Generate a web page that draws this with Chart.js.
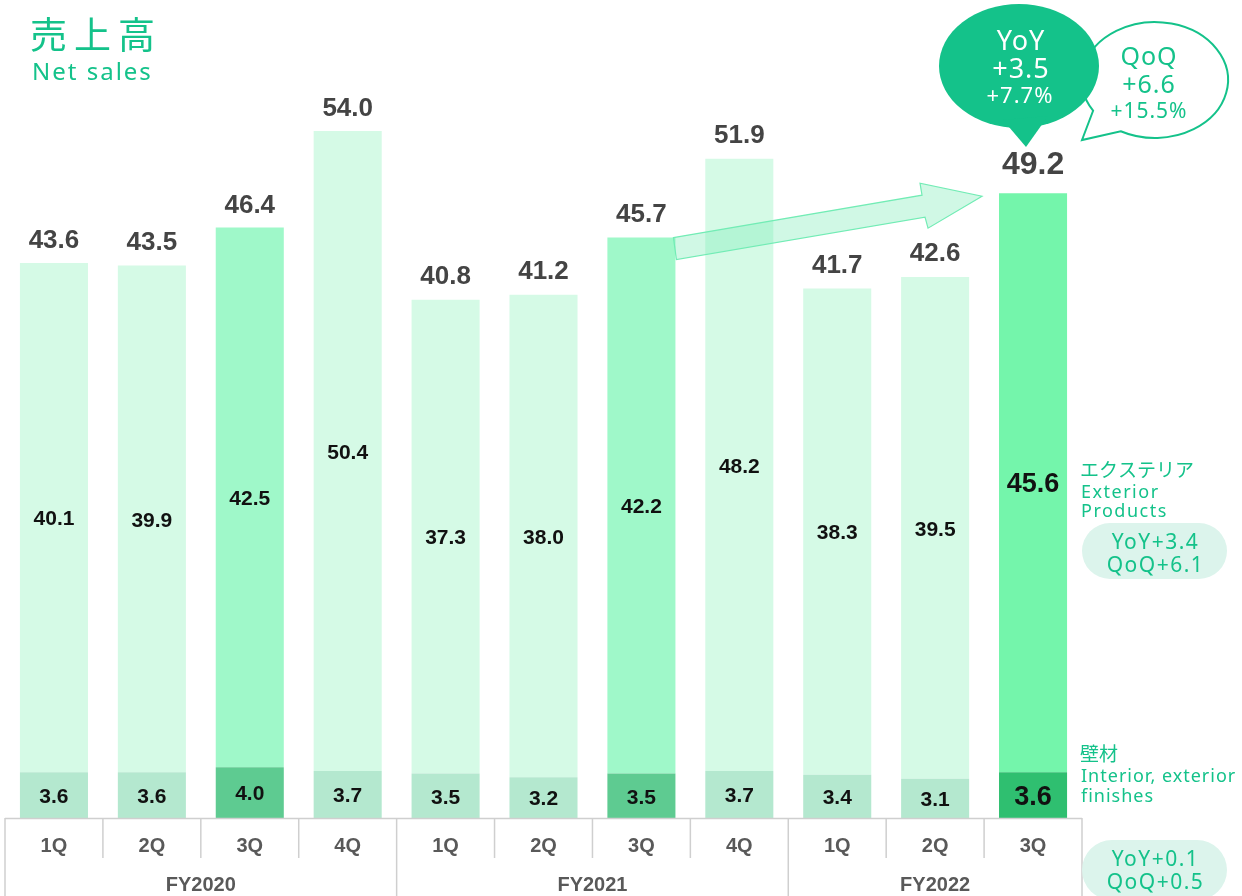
<!DOCTYPE html>
<html lang="ja">
<head>
    <meta charset="UTF-8">
    <title>売上高 Net sales</title>
    <script src="https://cdn.jsdelivr.net/npm/chart.js"></script>
    <style>
        body { margin: 0; background: #fff; }
        canvas { display: block; }
    </style>
</head>
<body>
    <canvas id="salesChart" width="1242" height="896"></canvas>

    <script>
        // data (billion yen)
        const quarters = ['1Q', '2Q', '3Q', '4Q', '1Q', '2Q', '3Q', '4Q', '1Q', '2Q', '3Q'];
        const fiscalYears = ['FY2020', 'FY2021', 'FY2022'];
        const quartersPerYear = [4, 4, 3];
        const interior = [3.6, 3.6, 4.0, 3.7, 3.5, 3.2, 3.5, 3.7, 3.4, 3.1, 3.6];
        const exterior = [40.1, 39.9, 42.5, 50.4, 37.3, 38.0, 42.2, 48.2, 38.3, 39.5, 45.6];
        const totals = [43.6, 43.5, 46.4, 54.0, 40.8, 41.2, 45.7, 51.9, 41.7, 42.6, 49.2];

        const GREEN = '#14c28a';
        const last = quarters.length - 1;

        function colorsFor(plain, third, current) {
            return quarters.map((q, i) => i === last ? current : (q === '3Q' ? third : plain));
        }

        const decorPlugin = {
            id: 'decor',
            afterDatasetsDraw(chart) {
                const ctx = chart.ctx;
                const x = chart.scales.x;
                const y = chart.scales.y;
                const area = chart.chartArea;
                const meta0 = chart.getDatasetMeta(0);
                const meta1 = chart.getDatasetMeta(1);
                const step = (area.right - area.left) / quarters.length;
                const arial = '"Liberation Sans", Arial, sans-serif';
                const sans = '"Noto Sans", sans-serif';

                ctx.save();
                ctx.textAlign = 'center';
                ctx.textBaseline = 'middle';

                // segment labels
                quarters.forEach((q, i) => {
                    const big = i === last;
                    const b0 = meta0.data[i];
                    const b1 = meta1.data[i];
                    ctx.fillStyle = '#111';
                    ctx.font = (big ? 'bold 27px ' : 'bold 21px ') + arial;
                    ctx.fillText(interior[i].toFixed(1), b0.x, (b0.y + b0.base) / 2 + 2);
                    ctx.fillText(exterior[i].toFixed(1), b1.x, (b1.y + b1.base) / 2 + 2);
                    // totals
                    ctx.fillStyle = '#444';
                    ctx.font = (big ? 'bold 32px ' : 'bold 26px ') + arial;
                    const top = y.getPixelForValue(totals[i]);
                    ctx.fillText(totals[i].toFixed(1), b1.x, top - (big ? 28 : 23));
                });

                // axis boxes
                ctx.strokeStyle = '#cfcfcf';
                ctx.lineWidth = 1.5;
                ctx.beginPath();
                ctx.moveTo(area.left, area.bottom + 0.5);
                ctx.lineTo(area.right, area.bottom + 0.5);
                let idx = 0;
                ctx.moveTo(area.left, area.bottom);
                ctx.lineTo(area.left, 896);
                quartersPerYear.forEach(n => {
                    for (let k = 1; k < n; k++) {
                        const bx = area.left + (idx + k) * step;
                        ctx.moveTo(bx, area.bottom);
                        ctx.lineTo(bx, area.bottom + 40);
                    }
                    idx += n;
                    const ex = area.left + idx * step;
                    ctx.moveTo(ex, area.bottom);
                    ctx.lineTo(ex, 896);
                });
                ctx.stroke();

                ctx.fillStyle = '#595959';
                ctx.font = 'bold 20px ' + arial;
                quarters.forEach((q, i) => {
                    ctx.fillText(q, x.getPixelForValue(i), area.bottom + 28);
                });
                idx = 0;
                fiscalYears.forEach((fy, j) => {
                    const cx = area.left + (idx + quartersPerYear[j] / 2) * step;
                    ctx.fillText(fy, cx, area.bottom + 67);
                    idx += quartersPerYear[j];
                });

                // growth arrow from FY2021 3Q to FY2022 3Q
                const from = meta1.data[6];
                const to = meta1.data[last];
                const sx = from.x + from.width / 2;
                const sy = y.getPixelForValue(totals[6]);
                const tx = to.x - to.width / 2 - 17;
                const ty = y.getPixelForValue(totals[last]) + 3;
                ctx.beginPath();
                ctx.moveTo(sx - 2, sy);
                ctx.lineTo(tx - 60, ty - 1);
                ctx.lineTo(tx - 62, ty - 13);
                ctx.lineTo(tx, ty);
                ctx.lineTo(tx - 54, ty + 32);
                ctx.lineTo(tx - 57, ty + 21);
                ctx.lineTo(sx + 1, sy + 22);
                ctx.closePath();
                ctx.fillStyle = 'rgba(120, 235, 180, 0.35)';
                ctx.fill();
                ctx.strokeStyle = '#72ecb5';
                ctx.lineWidth = 1.2;
                ctx.stroke();

                // QoQ bubble (outline, tail to lower left)
                const rad = Math.PI / 180;
                ctx.beginPath();
                ctx.ellipse(1155, 80, 73, 58, 0, 148 * rad, 118 * rad);
                ctx.lineTo(1082, 140);
                ctx.closePath();
                ctx.fillStyle = '#fff';
                ctx.fill();
                ctx.strokeStyle = GREEN;
                ctx.lineWidth = 2;
                ctx.stroke();

                // YoY bubble (filled, tail down)
                ctx.beginPath();
                ctx.ellipse(1019, 66, 80, 62, 0, 0, Math.PI * 2);
                ctx.fillStyle = GREEN;
                ctx.fill();
                ctx.beginPath();
                ctx.moveTo(1003, 120);
                ctx.lineTo(1026, 147);
                ctx.lineTo(1048, 116);
                ctx.fill();

                ctx.letterSpacing = '1px';
                ctx.fillStyle = '#fff';
                ctx.font = '27px ' + sans;
                ctx.fillText('YoY', 1021, 42);
                ctx.fillText('+3.5', 1021, 70);
                ctx.font = '22px ' + sans;
                ctx.fillText('+7.7%', 1020, 97);

                ctx.fillStyle = GREEN;
                ctx.font = '25px ' + sans;
                ctx.fillText('QoQ', 1149, 58);
                ctx.fillText('+6.6', 1149, 86);
                ctx.font = '21px ' + sans;
                ctx.fillText('+15.5%', 1149, 112);

                // right legend pills
                function pill(px, py, w, h, l1, l2) {
                    ctx.beginPath();
                    ctx.roundRect(px, py, w, h, h / 2);
                    ctx.fillStyle = '#dcf4ec';
                    ctx.fill();
                    ctx.fillStyle = GREEN;
                    ctx.font = '21px ' + sans;
                    ctx.letterSpacing = '1.5px';
                    ctx.textAlign = 'center';
                    ctx.fillText(l1, px + w / 2 + 1, py + 20);
                    ctx.fillText(l2, px + w / 2 + 1, py + 43);
                }
                pill(1082, 523, 145, 56, 'YoY+3.4', 'QoQ+6.1');
                pill(1082, 840, 145, 60, 'YoY+0.1', 'QoQ+0.5');

                ctx.textAlign = 'left';
                ctx.fillStyle = GREEN;
                ctx.letterSpacing = '0px';
                ctx.font = '19px "Noto Sans CJK JP", sans-serif';
                ctx.fillText('エクステリア', 1080, 470);
                ctx.fillText('壁材', 1080, 754);
                ctx.letterSpacing = '1.5px';
                ctx.font = '18px ' + sans;
                ctx.fillText('Exterior', 1081, 493);
                ctx.fillText('Products', 1081, 512);
                ctx.letterSpacing = '1px';
                ctx.fillText('Interior, exterior', 1081, 777);
                ctx.fillText('finishes', 1081, 797);

                // title
                ctx.letterSpacing = '7px';
                ctx.font = '37px "Noto Sans CJK JP", sans-serif';
                ctx.fillText('売上高', 30, 35);
                ctx.letterSpacing = '2px';
                ctx.font = '24px ' + sans;
                ctx.fillText('Net sales', 32, 73);

                ctx.restore();
            }
        };

        new Chart(document.getElementById('salesChart').getContext('2d'), {
            type: 'bar',
            data: {
                labels: quarters,
                datasets: [{
                    label: '壁材',
                    data: interior,
                    backgroundColor: colorsFor('#b4e8cf', '#5ecb91', '#2fbf70'),
                    borderWidth: 0
                }, {
                    label: 'エクステリア',
                    data: exterior,
                    backgroundColor: colorsFor('#d5fae6', '#9ff8c9', '#74f5ab'),
                    borderWidth: 0
                }]
            },
            options: {
                responsive: false,
                animation: false,
                layout: { padding: { left: 5, right: 160, top: 56, bottom: 78 } },
                datasets: { bar: { categoryPercentage: 1, barPercentage: 0.695 } },
                plugins: { legend: { display: false }, tooltip: { enabled: false } },
                scales: {
                    x: { stacked: true, display: false },
                    y: { stacked: true, display: false, min: 0, max: 60 }
                }
            },
            plugins: [decorPlugin]
        });
    </script>
</body>
</html>
